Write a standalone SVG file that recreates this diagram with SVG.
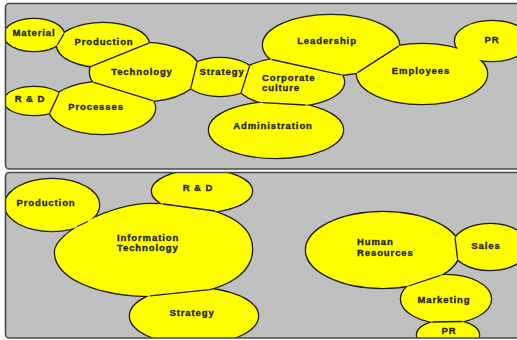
<svg xmlns="http://www.w3.org/2000/svg" width="517" height="340" viewBox="0 0 517 340">
<style>
.panel{fill:#c0c0c0;stroke:none}
.frame{fill:none;stroke:#4a4a4a;stroke-width:1.6}
.b{fill:#ffff00}
.ol{stroke:#1e1e1e;stroke-width:2.6}
.div{stroke:#1e1e1e;stroke-width:1.3;fill:none}
text{font-family:"Liberation Sans",Arial,sans-serif;font-weight:700;font-size:9.5px;letter-spacing:0.9px;fill:#262626;stroke:#262626;stroke-width:0.35px}
.c{text-anchor:middle}
</style>
<defs>
<clipPath id="clipTop"><rect x="5" y="3" width="520" height="166" rx="4"/></clipPath>
<clipPath id="clipBot"><rect x="5" y="172" width="520" height="166" rx="4"/></clipPath>
</defs>
<rect width="517" height="340" fill="#ffffff"/>
<rect class="panel" x="5" y="3" width="520" height="166" rx="4"/>
<rect class="panel" x="5" y="172" width="520" height="166" rx="4"/>

<g id="top-cluster" clip-path="url(#clipTop)">
  <g id="outlines-top">
    <use href="#e-material" class="ol"/>
    <use href="#e-production1" class="ol"/>
    <use href="#e-technology" class="ol"/>
    <use href="#e-strategy1" class="ol"/>
    <use href="#e-rd1" class="ol"/>
    <use href="#e-processes" class="ol"/>
    <use href="#e-corporate" class="ol"/>
    <use href="#e-leadership" class="ol"/>
    <use href="#e-employees" class="ol"/>
    <use href="#e-administration" class="ol"/>
    <use href="#e-pr1" class="ol"/>
  </g>
  <g id="material"><ellipse id="e-material" class="b" cx="34" cy="35" rx="30" ry="16"/><text class="c" x="34" y="36.4">Material</text></g>
  <g id="technology"><ellipse id="e-technology" class="b" cx="145" cy="72" rx="55" ry="29"/><text class="c" x="142" y="75.4">Technology</text></g>
  <g id="production1"><ellipse id="e-production1" class="b" cx="103" cy="45" rx="46" ry="22"/><text class="c" x="104" y="45.4">Production</text></g>
  <g id="processes"><ellipse id="e-processes" class="b" cx="102" cy="108" rx="53" ry="26"/><text class="c" x="96" y="110.4">Processes</text></g>
  <g id="rd1"><ellipse id="e-rd1" class="b" cx="34" cy="101" rx="30" ry="14"/><text class="c" x="30" y="102.4">R &amp; D</text></g>
  <g id="corporate-culture"><ellipse id="e-corporate" class="b" cx="290" cy="82" rx="54" ry="24"/><text x="262" y="80.6">Corporate</text><text x="262" y="91.1">culture</text></g>
  <g id="strategy1"><ellipse id="e-strategy1" class="b" cx="220" cy="77" rx="36" ry="19"/><text class="c" x="222" y="75.4">Strategy</text></g>
  <g id="leadership"><ellipse id="e-leadership" class="b" cx="331" cy="45" rx="68" ry="30"/><text class="c" x="327" y="44.4">Leadership</text></g>
  <g id="employees"><ellipse id="e-employees" class="b" cx="422" cy="74" rx="65" ry="30"/><text class="c" x="421" y="74.4">Employees</text></g>
  <g id="administration"><ellipse id="e-administration" class="b" cx="276" cy="130" rx="67" ry="28"/><text class="c" x="273" y="129.4">Administration</text></g>
  <g id="pr1"><ellipse id="e-pr1" class="b" cx="492" cy="41" rx="37" ry="20"/><text class="c" x="492" y="43.4">PR</text></g>
</g>

<g id="bottom-cluster" clip-path="url(#clipBot)">
  <g id="outlines-bottom">
    <use href="#e-production2" class="ol"/>
    <use href="#e-rd2" class="ol"/>
    <use href="#e-it" class="ol"/>
    <use href="#e-strategy2" class="ol"/>
    <use href="#e-hr" class="ol"/>
    <use href="#e-sales" class="ol"/>
    <use href="#e-marketing" class="ol"/>
    <use href="#e-pr2" class="ol"/>
  </g>
  <g id="information-technology"><path id="e-it" class="b" d="M55,252 C55,232.8 112,204 150,204 C214,204 252,220 252,249 C252,278 215,296 152,296 C98.5,296 55,278.4 55,252 Z"/><text x="117" y="240.7">Information</text><text x="117" y="251.2">Technology</text></g>
  <g id="production2"><ellipse id="e-production2" class="b" cx="52" cy="205" rx="47" ry="26"/><text class="c" x="46" y="206.4">Production</text></g>
  <g id="rd2"><ellipse id="e-rd2" class="b" cx="202" cy="191" rx="50" ry="21"/><text class="c" x="198" y="191.4">R &amp; D</text></g>
  <g id="strategy2"><ellipse id="e-strategy2" class="b" cx="194" cy="316" rx="64" ry="28"/><text class="c" x="192" y="316.4">Strategy</text></g>
  <g id="human-resources"><ellipse id="e-hr" class="b" cx="383" cy="250" rx="77" ry="38"/><text x="357" y="245">Human</text><text x="357" y="255.5">Resources</text></g>
  <g id="sales"><ellipse id="e-sales" class="b" cx="490" cy="247" rx="38" ry="23"/><text class="c" x="486" y="249.4">Sales</text></g>
  <g id="marketing"><ellipse id="e-marketing" class="b" cx="446" cy="299" rx="45" ry="24"/><text class="c" x="444" y="303.4">Marketing</text></g>
  <g id="pr2"><ellipse id="e-pr2" class="b" cx="448" cy="335" rx="31" ry="15"/><text class="c" x="449" y="334.4">PR</text></g>
</g>

<g id="connectors">
  <line class="div" x1="63.8" y1="33.8" x2="57.3" y2="45"/>
  <line class="div" x1="148.8" y1="43.1" x2="91.2" y2="66.4"/>
  <line class="div" x1="93.6" y1="82.3" x2="152.8" y2="100.7"/>
  <line class="div" x1="59" y1="93.2" x2="49.8" y2="112.9"/>
  <line class="div" x1="197" y1="62.5" x2="190.8" y2="88.1"/>
  <line class="div" x1="249.5" y1="66.2" x2="241.2" y2="92.4"/>
  <line class="div" x1="271.7" y1="59.5" x2="341.2" y2="74.8"/>
  <line class="div" x1="398.7" y1="46.1" x2="357.5" y2="72.6"/>
  <line class="div" x1="262.5" y1="102.7" x2="305.5" y2="105"/>
  <line class="div" x1="77" y1="226.5" x2="88" y2="221.5"/>
  <line class="div" x1="163" y1="204" x2="215" y2="211"/>
  <line class="div" x1="150" y1="295.8" x2="212" y2="289.3"/>
  <line class="div" x1="455" y1="237.3" x2="457.6" y2="259"/>
  <line class="div" x1="408.5" y1="286" x2="440.5" y2="275.3"/>
  <line class="div" x1="432.5" y1="322" x2="462" y2="321.5"/>
</g>

<rect class="frame" x="5.5" y="3.5" width="520" height="165.5" rx="4"/>
<rect class="frame" x="5.5" y="172.5" width="520" height="165.5" rx="4"/>
</svg>
